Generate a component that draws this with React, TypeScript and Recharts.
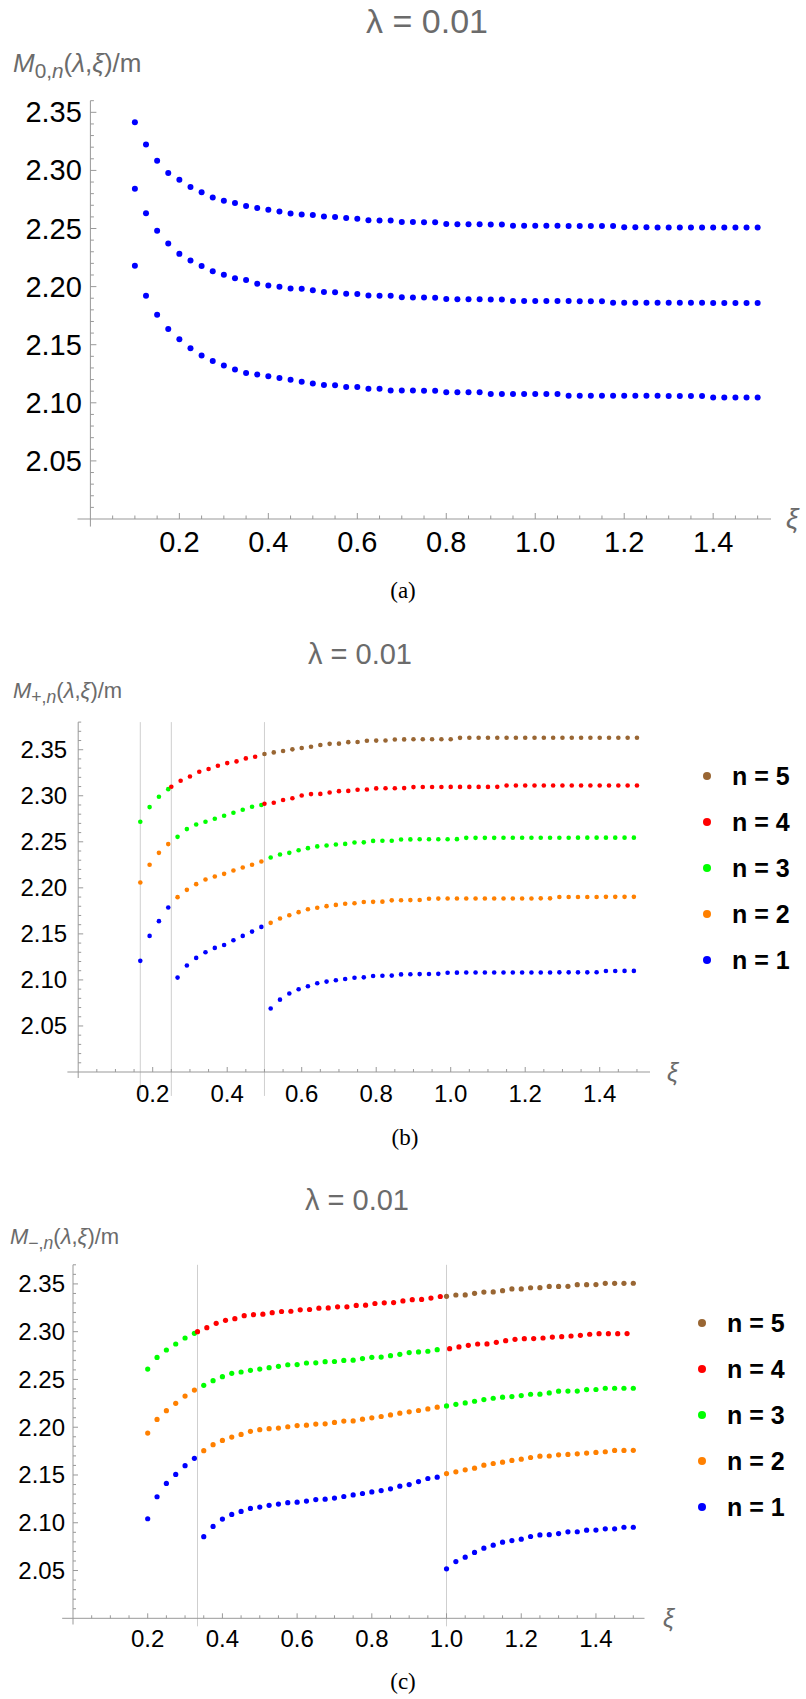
import { ScatterChart, Scatter, XAxis, YAxis, ReferenceLine } from 'recharts';

// ---- panel (a): M_{0,n}, three levels, xi = 0.1 .. 1.5
const xiA = [
  0.1, 0.125, 0.15, 0.175, 0.2, 0.225, 0.25, 0.275, 0.3, 0.325,
  0.35, 0.375, 0.4, 0.425, 0.45, 0.475, 0.5, 0.525, 0.55, 0.575,
  0.6, 0.625, 0.65, 0.675, 0.7, 0.725, 0.75, 0.775, 0.8, 0.825,
  0.85, 0.875, 0.9, 0.925, 0.95, 0.975, 1.0, 1.025, 1.05, 1.075,
  1.1, 1.125, 1.15, 1.175, 1.2, 1.225, 1.25, 1.275, 1.3, 1.325,
  1.35, 1.375, 1.4, 1.425, 1.45, 1.475, 1.5,
];
const m0Top = [
  2.3414, 2.3222, 2.3084, 2.2977, 2.2919, 2.2858, 2.2812, 2.2766, 2.2738, 2.2720,
  2.2693, 2.2677, 2.2662, 2.2647, 2.2630, 2.2620, 2.2616, 2.2604, 2.2600, 2.2590,
  2.2585, 2.2572, 2.2570, 2.2569, 2.2556, 2.2555, 2.2554, 2.2553, 2.2538, 2.2537,
  2.2536, 2.2536, 2.2535, 2.2535, 2.2524, 2.2524, 2.2523, 2.2523, 2.2523, 2.2522,
  2.2522, 2.2522, 2.2522, 2.2521, 2.2510, 2.2510, 2.2510, 2.2509, 2.2509, 2.2509,
  2.2509, 2.2509, 2.2508, 2.2508, 2.2508, 2.2508, 2.2508,
];
const m0Mid = [
  2.2842, 2.2631, 2.2481, 2.2371, 2.2282, 2.2224, 2.2178, 2.2132, 2.2102, 2.2071,
  2.2056, 2.2025, 2.2010, 2.1998, 2.1984, 2.1982, 2.1968, 2.1954, 2.1952, 2.1938,
  2.1936, 2.1923, 2.1922, 2.1921, 2.1908, 2.1907, 2.1906, 2.1905, 2.1893, 2.1892,
  2.1891, 2.1891, 2.1890, 2.1890, 2.1877, 2.1877, 2.1876, 2.1876, 2.1876, 2.1876,
  2.1875, 2.1875, 2.1875, 2.1862, 2.1862, 2.1862, 2.1861, 2.1861, 2.1861, 2.1861,
  2.1861, 2.1861, 2.1860, 2.1860, 2.1860, 2.1860, 2.1860,
];
const m0Low = [
  2.2179, 2.1922, 2.1757, 2.1635, 2.1546, 2.1470, 2.1408, 2.1360, 2.1320, 2.1286,
  2.1256, 2.1243, 2.1228, 2.1213, 2.1198, 2.1182, 2.1167, 2.1153, 2.1151, 2.1137,
  2.1136, 2.1122, 2.1120, 2.1106, 2.1105, 2.1105, 2.1104, 2.1104, 2.1091, 2.1091,
  2.1090, 2.1090, 2.1076, 2.1076, 2.1076, 2.1076, 2.1075, 2.1075, 2.1075, 2.1061,
  2.1061, 2.1061, 2.1060, 2.1060, 2.1060, 2.1060, 2.1060, 2.1060, 2.1059, 2.1059,
  2.1059, 2.1059, 2.1045, 2.1045, 2.1045, 2.1045, 2.1045,
];

// ---- panel (b): M_{+,n}
const xiB = [
  0.1667, 0.1917, 0.2167, 0.2417, 0.2667, 0.2917, 0.3167, 0.3417, 0.3667, 0.3917,
  0.4167, 0.4417, 0.4667, 0.4917, 0.5167, 0.5417, 0.5667, 0.5917, 0.6167, 0.6417,
  0.6667, 0.6917, 0.7167, 0.7417, 0.7667, 0.7917, 0.8167, 0.8417, 0.8667, 0.8917,
  0.9167, 0.9417, 0.9667, 0.9917, 1.0167, 1.0417, 1.0667, 1.0917, 1.1167, 1.1417,
  1.1667, 1.1917, 1.2167, 1.2417, 1.2667, 1.2917, 1.3167, 1.3417, 1.3667, 1.3917,
  1.4167, 1.4417, 1.4667, 1.4917,
];
const xiB4 = [
  0.25, 0.275, 0.3, 0.325, 0.35, 0.375, 0.4, 0.425, 0.45, 0.475,
  0.5, 0.525, 0.55, 0.575, 0.6, 0.625, 0.65, 0.675, 0.7, 0.725,
  0.75, 0.775, 0.8, 0.825, 0.85, 0.875, 0.9, 0.925, 0.95, 0.975,
  1.0, 1.025, 1.05, 1.075, 1.1, 1.125, 1.15, 1.175, 1.2, 1.225,
  1.25, 1.275, 1.3, 1.325, 1.35, 1.375, 1.4, 1.425, 1.45, 1.475,
  1.5,
];
const xiB5 = xiB4.slice(10);
const plusN1 = [
  2.1207, 2.1478, 2.1638, 2.1786, 2.1025, 2.1156, 2.1239, 2.1301, 2.1348, 2.1380,
  2.1431, 2.1478, 2.1525, 2.1576, 2.0689, 2.0786, 2.0852, 2.0899, 2.0931, 2.0964,
  2.0982, 2.0996, 2.1010, 2.1024, 2.1028, 2.1042, 2.1045, 2.1047, 2.1060, 2.1062,
  2.1063, 2.1064, 2.1066, 2.1078, 2.1079, 2.1080, 2.1080, 2.1080, 2.1080, 2.1081,
  2.1081, 2.1081, 2.1081, 2.1081, 2.1081, 2.1082, 2.1082, 2.1082, 2.1082, 2.1083,
  2.1097, 2.1097, 2.1098, 2.1098,
];
const plusN2 = [
  2.2058, 2.2250, 2.2380, 2.2475, 2.1899, 2.1978, 2.2040, 2.2091, 2.2123, 2.2152,
  2.2188, 2.2221, 2.2250, 2.2286, 2.1620, 2.1667, 2.1703, 2.1736, 2.1768, 2.1783,
  2.1801, 2.1815, 2.1828, 2.1832, 2.1846, 2.1848, 2.1850, 2.1864, 2.1866, 2.1867,
  2.1868, 2.1882, 2.1883, 2.1884, 2.1884, 2.1884, 2.1884, 2.1885, 2.1885, 2.1885,
  2.1885, 2.1885, 2.1885, 2.1886, 2.1886, 2.1900, 2.1901, 2.1901, 2.1901, 2.1901,
  2.1902, 2.1902, 2.1902, 2.1902,
];
const plusN3 = [
  2.2717, 2.2877, 2.2989, 2.3072, 2.2554, 2.2638, 2.2688, 2.2717, 2.2750, 2.2783,
  2.2815, 2.2848, 2.2880, 2.2899, 2.2330, 2.2362, 2.2380, 2.2409, 2.2431, 2.2450,
  2.2460, 2.2470, 2.2477, 2.2492, 2.2494, 2.2510, 2.2511, 2.2512, 2.2525, 2.2526,
  2.2527, 2.2527, 2.2528, 2.2528, 2.2529, 2.2543, 2.2543, 2.2543, 2.2543, 2.2544,
  2.2544, 2.2544, 2.2544, 2.2544, 2.2544, 2.2544, 2.2544, 2.2545, 2.2545, 2.2545,
  2.2545, 2.2545, 2.2545, 2.2545,
];
const plusN4 = [
  2.3098, 2.3163, 2.3210, 2.3261, 2.3290, 2.3326, 2.3355, 2.3373, 2.3406, 2.3424,
  2.2913, 2.2924, 2.2954, 2.2973, 2.3003, 2.3018, 2.3020, 2.3036, 2.3050, 2.3053,
  2.3066, 2.3068, 2.3080, 2.3081, 2.3082, 2.3083, 2.3094, 2.3095, 2.3095, 2.3095,
  2.3096, 2.3096, 2.3096, 2.3096, 2.3096, 2.3097, 2.3111, 2.3111, 2.3111, 2.3111,
  2.3111, 2.3111, 2.3112, 2.3112, 2.3112, 2.3112, 2.3112, 2.3112, 2.3112, 2.3112,
  2.3112,
];
const plusN5 = [
  2.3453, 2.3471, 2.3486, 2.3504, 2.3518, 2.3533, 2.3551, 2.3564, 2.3566, 2.3582,
  2.3584, 2.3597, 2.3599, 2.3600, 2.3611, 2.3612, 2.3613, 2.3613, 2.3613, 2.3613,
  2.3614, 2.3629, 2.3630, 2.3630, 2.3630, 2.3630, 2.3630, 2.3630, 2.3630, 2.3630,
  2.3630, 2.3630, 2.3630, 2.3630, 2.3630, 2.3630, 2.3630, 2.3630, 2.3630, 2.3630,
  2.3630,
];
const thresholdsB = [1 / 6, 0.25, 0.5];

// ---- panel (c): M_{-,n}
const xiC = [
  0.2, 0.225, 0.25, 0.275, 0.3, 0.325, 0.35, 0.375, 0.4, 0.425,
  0.45, 0.475, 0.5, 0.525, 0.55, 0.575, 0.6, 0.625, 0.65, 0.675,
  0.7, 0.725, 0.75, 0.775, 0.8, 0.825, 0.85, 0.875, 0.9, 0.925,
  0.95, 0.975, 1.0, 1.025, 1.05, 1.075, 1.1, 1.125, 1.15, 1.175,
  1.2, 1.225, 1.25, 1.275, 1.3, 1.325, 1.35, 1.375, 1.4, 1.425,
  1.45, 1.475, 1.5,
];
const xiC4 = [
  0.3333, 0.3583, 0.3833, 0.4083, 0.4333, 0.4583, 0.4833, 0.5083, 0.5333, 0.5583,
  0.5833, 0.6083, 0.6333, 0.6583, 0.6833, 0.7083, 0.7333, 0.7583, 0.7833, 0.8083,
  0.8333, 0.8583, 0.8833, 0.9083, 0.9333, 0.9583, 0.9833, 1.0083, 1.0333, 1.0583,
  1.0833, 1.1083, 1.1333, 1.1583, 1.1833, 1.2083, 1.2333, 1.2583, 1.2833, 1.3083,
  1.3333, 1.3583, 1.3833, 1.4083, 1.4333, 1.4583, 1.4833,
];
const xiC5 = xiC.slice(32);
const minusN1 = [
  2.1042, 2.1272, 2.1412, 2.1506, 2.1597, 2.1674, 2.0854, 2.0962, 2.1039, 2.1087,
  2.1119, 2.1150, 2.1164, 2.1182, 2.1196, 2.1210, 2.1215, 2.1227, 2.1243, 2.1247,
  2.1258, 2.1275, 2.1291, 2.1306, 2.1323, 2.1337, 2.1355, 2.1383, 2.1400, 2.1431,
  2.1463, 2.1477, 2.0518, 2.0594, 2.0640, 2.0689, 2.0734, 2.0765, 2.0797, 2.0814,
  2.0828, 2.0856, 2.0873, 2.0875, 2.0887, 2.0905, 2.0906, 2.0922, 2.0923, 2.0936,
  2.0937, 2.0953, 2.0953,
];
const minusN2 = [
  2.1939, 2.2082, 2.2173, 2.2250, 2.2326, 2.2389, 2.1754, 2.1817, 2.1862, 2.1897,
  2.1925, 2.1957, 2.1974, 2.1985, 2.1991, 2.2005, 2.2017, 2.2021, 2.2033, 2.2036,
  2.2050, 2.2064, 2.2066, 2.2084, 2.2098, 2.2112, 2.2129, 2.2147, 2.2161, 2.2175,
  2.2192, 2.2210, 2.1515, 2.1533, 2.1554, 2.1571, 2.1603, 2.1620, 2.1634, 2.1652,
  2.1666, 2.1683, 2.1697, 2.1699, 2.1711, 2.1715, 2.1722, 2.1729, 2.1736, 2.1743,
  2.1757, 2.1757, 2.1758,
];
const minusN3 = [
  2.2609, 2.2731, 2.2808, 2.2871, 2.2934, 2.2983, 2.2438, 2.2487, 2.2529, 2.2564,
  2.2578, 2.2595, 2.2609, 2.2623, 2.2637, 2.2654, 2.2656, 2.2672, 2.2674, 2.2686,
  2.2688, 2.2699, 2.2702, 2.2718, 2.2732, 2.2734, 2.2749, 2.2763, 2.2781, 2.2788,
  2.2795, 2.2812, 2.2223, 2.2240, 2.2254, 2.2272, 2.2289, 2.2303, 2.2314, 2.2321,
  2.2331, 2.2345, 2.2346, 2.2359, 2.2377, 2.2378, 2.2378, 2.2394, 2.2395, 2.2408,
  2.2408, 2.2408, 2.2408,
];
const minusN4 = [
  2.3000, 2.3042, 2.3087, 2.3119, 2.3136, 2.3168, 2.3178, 2.3183, 2.3199, 2.3211,
  2.3214, 2.3229, 2.3232, 2.3246, 2.3249, 2.3260, 2.3260, 2.3275, 2.3277, 2.3295,
  2.3302, 2.3305, 2.3322, 2.3335, 2.3338, 2.3352, 2.3368, 2.2822, 2.2840, 2.2857,
  2.2871, 2.2872, 2.2889, 2.2906, 2.2920, 2.2927, 2.2928, 2.2934, 2.2944, 2.2948,
  2.2955, 2.2962, 2.2973, 2.2979, 2.2979, 2.2979, 2.2980,
];
const minusN5 = [
  2.3370, 2.3384, 2.3385, 2.3401, 2.3415, 2.3416, 2.3429, 2.3447, 2.3448, 2.3460,
  2.3461, 2.3474, 2.3474, 2.3475, 2.3492, 2.3492, 2.3493, 2.3506, 2.3506, 2.3506,
  2.3507,
];
const thresholdsC = [1 / 3, 1.0];

// ---- ticks
const xTicks = [
  0.05, 0.1, 0.15, 0.2, 0.25, 0.3, 0.35, 0.4, 0.45, 0.5,
  0.55, 0.6, 0.65, 0.7, 0.75, 0.8, 0.85, 0.9, 0.95, 1.0,
  1.05, 1.1, 1.15, 1.2, 1.25, 1.3, 1.35, 1.4, 1.45, 1.5,
];
const xMajor = [0.2, 0.4, 0.6, 0.8, 1.0, 1.2, 1.4];
const yTicks = [
  2.01, 2.02, 2.03, 2.04, 2.05, 2.06, 2.07, 2.08, 2.09, 2.1,
  2.11, 2.12, 2.13, 2.14, 2.15, 2.16, 2.17, 2.18, 2.19, 2.2,
  2.21, 2.22, 2.23, 2.24, 2.25, 2.26, 2.27, 2.28, 2.29, 2.3,
  2.31, 2.32, 2.33, 2.34, 2.35, 2.36, 2.37, 2.38,
];
const yMajor = [2.05, 2.1, 2.15, 2.2, 2.25, 2.3, 2.35];

const C_BLUE = '#0000ff';
const C_ORANGE = '#ff8000';
const C_GREEN = '#00ff00';
const C_RED = '#ff0000';
const C_BROWN = '#996633';
const AXIS = '#999999';
const LABEL = '#6b6b6b';
const SANS = '"Liberation Sans", Arial, sans-serif';

const pts = (xs: number[], ys: number[]) => xs.map((x, i) => ({ x, y: ys[i] }));
const isIn = (arr: number[], v: number) => arr.some(m => Math.abs(m - v) < 1e-6);

const xTick = (fs: number, big: number, small: number, gap: number) => (p: any) => {
  const v = p.payload.value;
  const major = isIn(xMajor, v);
  return (
    <g>
      <line x1={p.x} x2={p.x} y1={p.y} y2={p.y - (major ? big : small)} stroke={AXIS} />
      {major && (
        <text x={p.x} y={p.y + gap} textAnchor="middle" dominantBaseline="central"
          fontSize={fs} fontFamily={SANS} fill="#000">{v.toFixed(1)}</text>
      )}
    </g>
  );
};

const yTick = (fs: number, big: number, small: number, gap: number) => (p: any) => {
  const v = p.payload.value;
  const major = isIn(yMajor, v);
  return (
    <g>
      <line x1={p.x} x2={p.x + (major ? big : small)} y1={p.y} y2={p.y} stroke={AXIS} />
      {major && (
        <text x={p.x - gap} y={p.y} textAnchor="end" dominantBaseline="central"
          fontSize={fs} fontFamily={SANS} fill="#000">{v.toFixed(2)}</text>
      )}
    </g>
  );
};

const dotShape = (r: number, color: string) => (p: any) => (
  <circle cx={p.cx} cy={p.cy} r={r} fill={color} />
);

interface Series { xs: number[]; ys: number[]; color: string }

interface PanelProps {
  top: number;
  height: number;
  plotTop: number;
  plotLeft: number;
  plotRight: number;
  xAxisH: number;
  xMax: number;
  yMax: number;
  series: Series[];
  r: number;
  thresholds?: number[];
  gridBottom?: number;
  tickFs: number;
  xGap: number;
  yGap: number;
  big: number;
  small: number;
}

function Panel(pp: PanelProps) {
  const yt = yTicks.filter(v => v <= pp.yMax + 1e-9);
  return (
    <div style={{ position: 'absolute', left: 0, top: pp.top }}>
      <ScatterChart width={806} height={pp.height}
        margin={{ top: pp.plotTop - pp.top, right: 806 - pp.plotRight, bottom: 0, left: 0 }}>
        <XAxis type="number" dataKey="x" domain={[0, pp.xMax]} allowDataOverflow
          ticks={xTicks} interval={0} height={pp.xAxisH} axisLine={false} tickLine={false}
          tickSize={0} tickMargin={0} tick={xTick(pp.tickFs, pp.big, pp.small, pp.xGap)} />
        <YAxis type="number" dataKey="y" domain={[2.0, pp.yMax]} allowDataOverflow
          ticks={yt} interval={0} width={pp.plotLeft} axisLine={false} tickLine={false}
          tickSize={0} tickMargin={0} tick={yTick(pp.tickFs, pp.big, pp.small, pp.yGap)} />
        {(pp.thresholds || []).map(t => (
          <ReferenceLine key={t} segment={[{ x: t, y: pp.gridBottom ?? 2.0 }, { x: t, y: pp.yMax }]}
            stroke="#cfcfcf" strokeWidth={1} ifOverflow="visible" />
        ))}
        <ReferenceLine segment={[{ x: -0.029, y: 2.0 }, { x: pp.xMax, y: 2.0 }]}
          stroke={AXIS} strokeWidth={1} ifOverflow="visible" />
        <ReferenceLine segment={[{ x: 0, y: 1.9935 }, { x: 0, y: pp.yMax }]}
          stroke={AXIS} strokeWidth={1} ifOverflow="visible" />
        {pp.series.map((s, i) => (
          <Scatter key={i} data={pts(s.xs, s.ys)} fill={s.color}
            shape={dotShape(pp.r, s.color)} isAnimationActive={false} />
        ))}
      </ScatterChart>
    </div>
  );
}

function Title({ cx, cy, fs }: { cx: number; cy: number; fs: number }) {
  return (
    <div style={{ position: 'absolute', left: cx, top: cy, transform: 'translate(-50%, -50%)',
      fontFamily: SANS, fontSize: fs, lineHeight: 1, color: LABEL, whiteSpace: 'nowrap' }}>
      λ = 0.01
    </div>
  );
}

function YLabel({ left, top, fs, sub }: { left: number; top: number; fs: number; sub: string }) {
  return (
    <div style={{ position: 'absolute', left, top, fontFamily: SANS, fontSize: fs,
      lineHeight: 1, color: LABEL, whiteSpace: 'nowrap' }}>
      <i>M</i>
      <span style={{ fontSize: '0.8em', position: 'relative', top: '0.3em' }}>{sub},<i>n</i></span>
      (<i>λ</i>,<i>ξ</i>)/m
    </div>
  );
}

function XiLabel({ left, cy, fs }: { left: number; cy: number; fs: number }) {
  return (
    <div style={{ position: 'absolute', left, top: cy, transform: 'translateY(-50%)',
      fontFamily: SANS, fontSize: fs, fontStyle: 'italic', lineHeight: 1, color: LABEL }}>ξ</div>
  );
}

function Caption({ cx, cy, text }: { cx: number; cy: number; text: string }) {
  return (
    <div style={{ position: 'absolute', left: cx, top: cy, transform: 'translate(-50%, -50%)',
      fontFamily: '"Liberation Serif", "Times New Roman", serif', fontSize: 23, lineHeight: 1,
      color: '#000' }}>{text}</div>
  );
}

const legendItems = [
  { label: 'n = 5', color: C_BROWN },
  { label: 'n = 4', color: C_RED },
  { label: 'n = 3', color: C_GREEN },
  { label: 'n = 2', color: C_ORANGE },
  { label: 'n = 1', color: C_BLUE },
];

function LegendBox({ dotX, textX, y0 }: { dotX: number; textX: number; y0: number }) {
  return (
    <>
      {legendItems.map((it, i) => (
        <div key={it.label}>
          <div style={{ position: 'absolute', left: dotX - 4, top: y0 + i * 46 - 4, width: 8,
            height: 8, borderRadius: 4, background: it.color }} />
          <div style={{ position: 'absolute', left: textX, top: y0 + i * 46,
            transform: 'translateY(-50%)', fontFamily: SANS, fontSize: 25, fontWeight: 700,
            lineHeight: 1, color: '#000', whiteSpace: 'nowrap' }}>{it.label}</div>
        </div>
      ))}
    </>
  );
}

export default function App() {
  return (
    <div style={{ position: 'absolute', left: 0, top: 0, width: 806, height: 1699,
      background: '#fff', overflow: 'hidden' }}>
      {/* (a) */}
      <Panel top={0} height={600} plotTop={100.7} plotLeft={90.4} plotRight={771} xAxisH={81}
        xMax={1.53} yMax={2.36} r={3} tickFs={29} xGap={23} yGap={8.5} big={6} small={3.5}
        series={[
          { xs: xiA, ys: m0Top, color: C_BLUE },
          { xs: xiA, ys: m0Mid, color: C_BLUE },
          { xs: xiA, ys: m0Low, color: C_BLUE },
        ]} />
      <Title cx={427} cy={21} fs={34} />
      <YLabel left={13} top={50} fs={26} sub="0" />
      <XiLabel left={786} cy={519} fs={28} />
      <Caption cx={403} cy={590} text="(a)" />

      {/* (b) */}
      <Panel top={680} height={440} plotTop={722.1} plotLeft={78.2} plotRight={650} xAxisH={48}
        xMax={1.535} yMax={2.38} r={2.3} tickFs={24} xGap={21} yGap={11} big={5} small={3}
        thresholds={thresholdsB} gridBottom={1.974}
        series={[
          { xs: xiB, ys: plusN1, color: C_BLUE },
          { xs: xiB, ys: plusN2, color: C_ORANGE },
          { xs: xiB, ys: plusN3, color: C_GREEN },
          { xs: xiB4, ys: plusN4, color: C_RED },
          { xs: xiB5, ys: plusN5, color: C_BROWN },
        ]} />
      <Title cx={360} cy={654} fs={29} />
      <YLabel left={13} top={680} fs={22} sub="+" />
      <XiLabel left={667} cy={1072} fs={25} />
      <LegendBox dotX={707} textX={732} y0={776} />
      <Caption cx={405} cy={1137} text="(b)" />

      {/* (c) */}
      <Panel top={1230} height={430} plotTop={1264.8} plotLeft={73} plotRight={644.5} xAxisH={41.7}
        xMax={1.53} yMax={2.37} r={2.6} tickFs={24} xGap={20} yGap={8} big={5} small={3}
        thresholds={thresholdsC} gridBottom={1.9916}
        series={[
          { xs: xiC, ys: minusN1, color: C_BLUE },
          { xs: xiC, ys: minusN2, color: C_ORANGE },
          { xs: xiC, ys: minusN3, color: C_GREEN },
          { xs: xiC4, ys: minusN4, color: C_RED },
          { xs: xiC5, ys: minusN5, color: C_BROWN },
        ]} />
      <Title cx={357} cy={1200} fs={29} />
      <YLabel left={10} top={1226} fs={22} sub="−" />
      <XiLabel left={663} cy={1618} fs={25} />
      <LegendBox dotX={702} textX={727} y0={1323} />
      <Caption cx={403} cy={1681} text="(c)" />
    </div>
  );
}
